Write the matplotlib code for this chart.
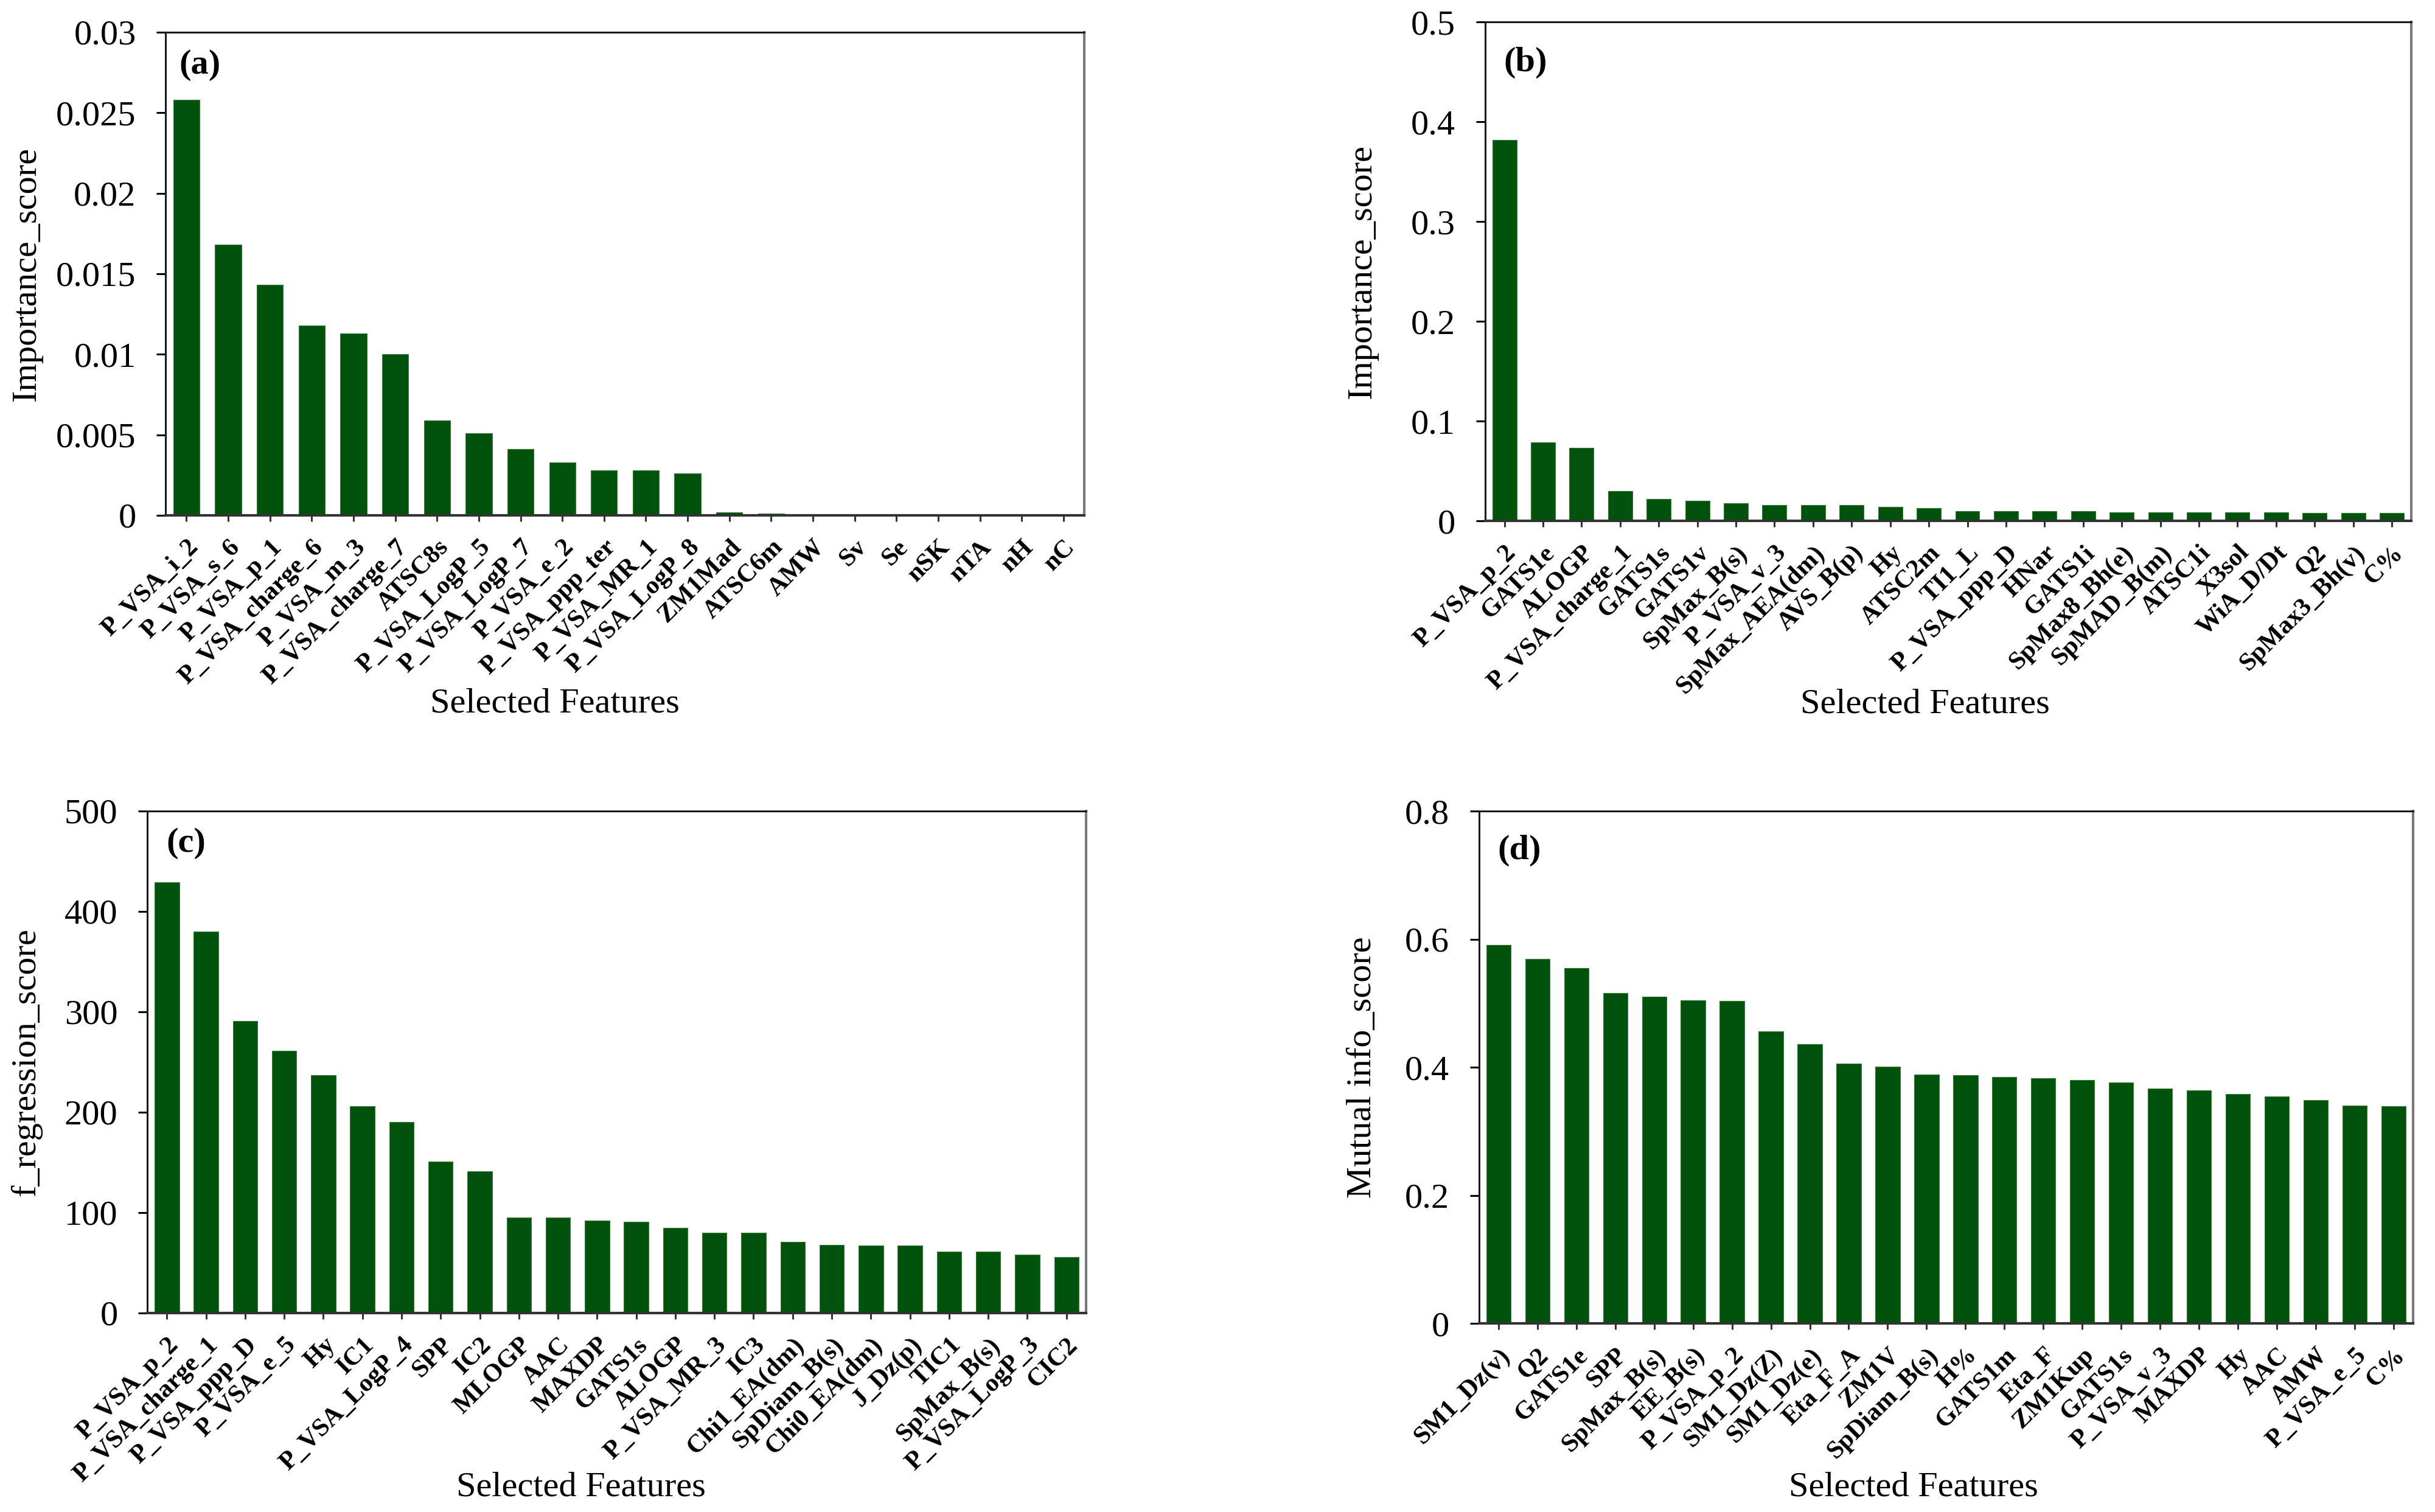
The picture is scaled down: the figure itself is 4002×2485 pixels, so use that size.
import matplotlib
matplotlib.use("Agg")
import matplotlib.pyplot as plt
from matplotlib.ticker import FuncFormatter

plt.rcParams['font.family'] = ['Liberation Serif', 'DejaVu Serif']

# (a) importance score
features_a = ["P_VSA_i_2", "P_VSA_s_6", "P_VSA_p_1", "P_VSA_charge_6", "P_VSA_m_3",
              "P_VSA_charge_7", "ATSC8s", "P_VSA_LogP_5", "P_VSA_LogP_7", "P_VSA_e_2",
              "P_VSA_ppp_ter", "P_VSA_MR_1", "P_VSA_LogP_8", "ZM1Mad", "ATSC6m", "AMW",
              "Sv", "Se", "nSK", "nTA", "nH", "nC"]
scores_a = [0.0258, 0.0168, 0.0143, 0.0118, 0.0113, 0.0100, 0.0059, 0.0051, 0.0041,
            0.0033, 0.0028, 0.0028, 0.0026, 0.0002, 0.0001, 0.00003, 0.00002, 0.00002,
            0.00001, 0.00001, 0.00001, 0.00001]

# (b) importance score
features_b = ["P_VSA_p_2", "GATS1e", "ALOGP", "P_VSA_charge_1", "GATS1s", "GATS1v",
              "SpMax_B(s)", "P_VSA_v_3", "SpMax_AEA(dm)", "AVS_B(p)", "Hy", "ATSC2m",
              "TI1_L", "P_VSA_ppp_D", "HNar", "GATS1i", "SpMax8_Bh(e)", "SpMAD_B(m)",
              "ATSC1i", "X3sol", "WiA_D/Dt", "Q2", "SpMax3_Bh(v)", "C%"]
scores_b = [0.382, 0.079, 0.073, 0.030, 0.022, 0.020, 0.018, 0.016, 0.016, 0.016, 0.014,
            0.013, 0.010, 0.010, 0.0098, 0.0098, 0.0083, 0.0083, 0.0083, 0.0083, 0.0083,
            0.0078, 0.0078, 0.0078]

# (c) f_regression score
features_c = ["P_VSA_p_2", "P_VSA_charge_1", "P_VSA_ppp_D", "P_VSA_e_5", "Hy", "IC1",
              "P_VSA_LogP_4", "SPP", "IC2", "MLOGP", "AAC", "MAXDP", "GATS1s", "ALOGP",
              "P_VSA_MR_3", "IC3", "Chi1_EA(dm)", "SpDiam_B(s)", "Chi0_EA(dm)", "J_Dz(p)",
              "TIC1", "SpMax_B(s)", "P_VSA_LogP_3", "CIC2"]
scores_c = [429, 380, 291, 261, 237, 206, 190, 151, 141, 95, 95, 92, 91, 85, 80, 80,
            71, 68, 67, 67, 61, 61, 58, 56]

# (d) mutual info score
features_d = ["SM1_Dz(v)", "Q2", "GATS1e", "SPP", "SpMax_B(s)", "EE_B(s)", "P_VSA_p_2",
              "SM1_Dz(Z)", "SM1_Dz(e)", "Eta_F_A", "ZM1V", "SpDiam_B(s)", "H%", "GATS1m",
              "Eta_F", "ZM1Kup", "GATS1s", "P_VSA_v_3", "MAXDP", "Hy", "AAC", "AMW",
              "P_VSA_e_5", "C%"]
scores_d = [0.591, 0.569, 0.555, 0.516, 0.510, 0.505, 0.504, 0.456, 0.436, 0.406, 0.401,
            0.389, 0.388, 0.385, 0.383, 0.380, 0.376, 0.367, 0.364, 0.358, 0.355, 0.349,
            0.340, 0.339]

bar_color = "#00520c"


def draw_panel(fig, rect, names, values, ymax, ystep, ylabel, tag, tag_pos, xlab_pos, ylab_x):
    ax = fig.add_axes(rect)
    xs = list(range(len(names)))
    ax.bar(xs, values, width=0.63, color=bar_color, edgecolor="#3f7a3a", linewidth=0.8)
    ax.set_xlim(-0.5, len(names) - 0.5)
    ax.set_ylim(0, ymax)
    nsteps = int(round(ymax / ystep))
    ax.set_yticks([ystep * i for i in range(nsteps + 1)])
    ax.yaxis.set_major_formatter(FuncFormatter(lambda v, p: "%g" % round(v, 6)))
    ax.set_xticks(xs)
    ax.set_xticklabels(names, rotation=45, ha="right", va="top",
                       rotation_mode="anchor", fontsize=30.5, fontweight="bold")
    ax.tick_params(axis="y", direction="out", length=11, width=2.2, labelsize=42, pad=24)
    ax.tick_params(axis="x", direction="out", length=7, width=2.2, pad=17, color="#333333")
    for side in ["left", "top"]:
        ax.spines[side].set_linewidth(2.2)
        ax.spines[side].set_color("#1a1a1a")
    ax.spines["bottom"].set_linewidth(3)
    ax.spines["bottom"].set_color("#333333")
    ax.spines["right"].set_linewidth(3)
    ax.spines["right"].set_color("#7a7a7a")
    ax.set_ylabel(ylabel, fontsize=42, va="center")
    ax.yaxis.set_label_coords(ylab_x, 0.5)
    ax.set_xlabel("Selected Features", fontsize=42, va="center")
    ax.xaxis.set_label_coords(xlab_pos[0], xlab_pos[1])
    ax.text(tag_pos[0], tag_pos[1], tag, transform=ax.transAxes, fontsize=42,
            fontweight="bold", ha="left", va="top")
    return ax


fig = plt.figure(figsize=(40.02, 24.85), dpi=100)

draw_panel(fig, [0.0680, 0.6592, 0.3773, 0.3195], features_a, scores_a, 0.03, 0.005,
           "Importance_score", "(a)", (0.015, 0.965), (0.424, -0.39), -0.151)
draw_panel(fig, [0.6099, 0.6555, 0.3803, 0.3300], features_b, scores_b, 0.5, 0.1,
           "Importance_score", "(b)", (0.02, 0.95), (0.475, -0.367), -0.133)
draw_panel(fig, [0.0605, 0.1316, 0.3855, 0.3320], features_c, scores_c, 500, 100,
           "f_regression_score", "(c)", (0.02, 0.967), (0.462, -0.347), -0.129)
draw_panel(fig, [0.6074, 0.1247, 0.3836, 0.3388], features_d, scores_d, 0.8, 0.2,
           "Mutual info_score", "(d)", (0.02, 0.954), (0.465, -0.32), -0.125)

fig.savefig("out.png", dpi=100)
plt.close(fig)
